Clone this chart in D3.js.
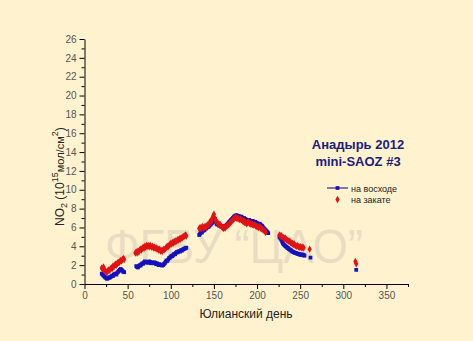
<!DOCTYPE html>
<html><head><meta charset="utf-8">
<script src="https://cdn.jsdelivr.net/npm/d3@7"></script>
<style>
html,body{margin:0;padding:0;background:#fff3cf;}
svg{display:block;font-family:Arial,"Liberation Sans",sans-serif;}
</style></head>
<body><svg id="c" width="473" height="341"></svg>
<script>
// ---- data ----
const riseDays = [20,21,22,23,24,25,26,27,28,29,30,31,32,33,34,35,36,37,38,39,40,41,42,43,44,45,46,
 60,61,62,63,64,65,66,67,68,69,70,71,72,73,74,75,76,77,78,79,80,81,82,83,84,85,86,87,88,89,90,91,92,93,94,95,96,97,98,99,100,101,102,103,104,105,106,107,108,109,110,111,112,113,114,115,116,117,118,
 133,134,135,136,137,138,139,140,141,142,143,144,145,146,147,148,149,150,151,152,153,154,155,156,157,158,159,160,161,162,163,164,165,166,167,168,169,170,171,172,173,174,175,176,177,178,179,180,181,182,183,184,185,186,187,188,189,190,191,192,193,194,195,196,197,198,199,200,201,202,203,204,205,206,207,208,209,210,211,212,213,
 226,227,228,229,230,231,232,233,234,235,236,237,238,239,240,241,242,243,244,245,246,247,248,249,250,251,252,253,254,255,262,
 315];
const riseNO2 = [1.1,1.0,0.9,0.8,0.7,0.65,0.55,0.6,0.7,0.65,0.75,0.8,0.9,0.85,1.0,1.05,1.1,1.0,1.2,1.3,1.4,1.5,1.6,1.5,1.4,1.3,1.25,
 1.9,1.8,1.75,1.9,2.0,1.95,2.1,2.2,2.15,2.3,2.4,2.3,2.35,2.25,2.3,2.4,2.35,2.2,2.3,2.25,2.2,2.3,2.25,2.1,2.2,2.1,2.0,2.1,2.05,2.0,1.95,2.0,2.1,2.2,2.35,2.5,2.45,2.6,2.75,2.8,2.9,3.0,2.95,3.1,3.2,3.15,3.3,3.4,3.35,3.45,3.5,3.45,3.6,3.55,3.65,3.7,3.75,3.8,3.85,
 5.2,5.35,5.5,5.45,5.6,5.75,5.7,5.85,5.9,6.0,6.05,6.1,6.2,6.3,6.4,6.5,6.7,6.8,6.9,6.6,6.4,6.3,6.35,6.2,6.25,6.1,6.15,6.05,6.1,6.0,6.15,6.2,6.3,6.35,6.5,6.6,6.7,6.8,6.9,7.0,7.1,7.2,7.25,7.3,7.25,7.2,7.2,7.15,7.1,7.15,7.0,6.95,7.0,6.9,6.85,6.8,6.7,6.75,6.8,6.7,6.6,6.65,6.7,6.6,6.55,6.6,6.5,6.45,6.4,6.35,6.4,6.3,6.2,6.15,6.0,5.9,5.8,5.7,5.6,5.5,5.4,
 5.0,4.85,4.7,4.5,4.3,4.2,4.1,4.0,3.95,3.85,3.8,3.7,3.65,3.6,3.5,3.45,3.4,3.35,3.3,3.3,3.25,3.2,3.2,3.15,3.1,3.1,3.15,3.05,3.1,3.0,2.8,
 1.5];
const setDays = [20,21,22,23,24,25,26,27,28,29,30,31,32,33,34,35,36,37,38,39,40,41,42,43,44,45,46,
 59,60,61,62,63,64,65,66,67,68,69,70,71,72,73,74,75,76,77,78,79,80,81,82,83,84,85,86,87,88,89,90,91,92,93,94,95,96,97,98,99,100,101,102,103,104,105,106,107,108,109,110,111,112,113,114,115,116,117,118,
 133,134,135,136,137,138,139,140,141,142,143,144,145,146,147,148,149,150,151,152,153,154,155,156,157,158,159,160,161,162,163,164,165,166,167,168,169,170,171,172,173,174,175,176,177,178,179,180,181,182,183,184,185,186,187,188,189,190,191,192,193,194,195,196,197,198,199,200,201,202,203,204,205,206,207,208,209,210,
 226,227,228,229,230,231,232,233,234,235,236,237,238,239,240,241,242,243,244,245,246,247,248,249,250,251,252,253,254,261,
 314,315];
const setNO2 = [1.7,1.6,1.8,1.5,1.4,1.3,1.25,1.35,1.5,1.45,1.6,1.7,1.65,1.9,1.8,2.0,2.1,2.0,2.2,2.3,2.25,2.4,2.5,2.45,2.6,2.7,2.6,
 3.3,3.4,3.3,3.5,3.4,3.6,3.7,3.6,3.8,3.9,3.8,4.0,3.9,4.1,4.0,4.05,3.95,4.1,4.0,3.9,4.0,3.85,3.9,3.8,3.85,3.7,3.75,3.6,3.7,3.5,3.55,3.45,3.6,3.7,3.65,3.8,3.9,4.0,3.95,4.1,4.2,4.3,4.25,4.4,4.35,4.5,4.45,4.6,4.55,4.7,4.65,4.8,4.75,4.9,4.85,5.0,5.05,5.1,5.2,5.1,
 5.9,6.0,5.85,6.0,6.1,5.95,6.05,6.1,6.0,6.2,6.3,6.25,6.5,6.7,6.6,6.9,7.2,7.4,7.0,6.8,6.6,6.5,6.4,6.3,6.35,6.2,6.1,6.0,5.9,6.0,5.95,6.1,6.15,6.2,6.3,6.4,6.5,6.6,6.7,6.8,6.9,7.0,7.05,7.0,6.95,7.0,6.9,6.85,6.9,6.8,6.75,6.6,6.7,6.5,6.55,6.4,6.5,6.6,6.45,6.4,6.35,6.4,6.3,6.25,6.3,6.2,6.1,6.15,6.05,6.0,6.1,5.95,5.9,5.8,5.75,5.7,5.6,5.5,
 5.2,5.1,5.15,5.0,4.95,4.9,4.8,4.85,4.7,4.65,4.6,4.5,4.55,4.4,4.35,4.3,4.2,4.25,4.1,4.05,4.0,4.05,3.95,3.9,3.95,3.9,3.85,3.9,3.85,3.7,
 2.4,2.15];
const xTicks = [0,50,100,150,200,250,300,350];
const yTicks = [0,2,4,6,8,10,12,14,16,18,20,22,24,26];
const seriesNames = ["на восходе","на закате"];
const titleLines = ["Анадырь 2012","mini-SAOZ #3"];
const xLabel = "Юлианский день";
const watermark = "ФГБУ “ЦАО”";

// ---- drawing ----
const svg = d3.select("#c");
const x = d3.scaleLinear().domain([0,375]).range([84.5,408]);
const y = d3.scaleLinear().domain([0,26]).range([284,39]);

svg.append("text").attr("x",105).attr("y",263).attr("font-size",48)
  .attr("textLength",258).attr("lengthAdjust","spacingAndGlyphs")
  .attr("fill","#e8ddc3").text(watermark);

// minor ticks
const gxm = svg.append("g").attr("transform","translate(0,284)")
  .call(d3.axisBottom(x).tickValues(d3.range(25,376,50)).tickSize(3).tickFormat("").tickSizeOuter(0));
const gym = svg.append("g").attr("transform","translate(84.5,0)")
  .call(d3.axisLeft(y).tickValues(d3.range(1,26,2)).tickSize(3).tickFormat("").tickSizeOuter(0));
[gxm,gym].forEach(g=>{g.select(".domain").remove();g.selectAll("line").attr("stroke","#000");});

const gx = svg.append("g").attr("transform","translate(0,284)")
  .call(d3.axisBottom(x).tickValues(xTicks).tickSize(5).tickSizeOuter(0).tickPadding(3));
const gy = svg.append("g").attr("transform","translate(84.5,0)")
  .call(d3.axisLeft(y).tickValues(yTicks).tickSize(5).tickSizeOuter(0).tickPadding(3));
[gx,gy].forEach(g=>{
  g.select(".domain").attr("stroke","#000");
  g.selectAll("line").attr("stroke","#000");
  g.selectAll("text").attr("font-size",10).attr("fill","#555").attr("font-family","Arial, 'Liberation Sans', sans-serif");
});

const rise = riseDays.map((d,i)=>[d,riseNO2[i]]);
const set = setDays.map((d,i)=>[d,setNO2[i]]);
const sq = d3.symbol().type(d3.symbolSquare).size(14);
const dm = d3.symbol().type(d3.symbolDiamond).size(16);
svg.append("g").selectAll("path").data(rise).join("path")
  .attr("d",sq).attr("transform",d=>`translate(${x(d[0])},${y(d[1])})`).attr("fill","#1212c0");
svg.append("g").selectAll("path").data(set).join("path")
  .attr("d",dm).attr("transform",d=>`translate(${x(d[0])},${y(d[1])})`).attr("fill","#e01414");

// title
svg.append("text").attr("x",358).attr("y",149).attr("text-anchor","middle")
  .attr("font-size",13).attr("font-weight","bold").attr("fill","#20207c").text(titleLines[0]);
svg.append("text").attr("x",358).attr("y",166).attr("text-anchor","middle")
  .attr("font-size",13).attr("font-weight","bold").attr("fill","#20207c").text(titleLines[1]);

// legend
svg.append("line").attr("x1",327).attr("x2",348).attr("y1",188).attr("y2",188).attr("stroke","#000066").attr("stroke-width",1);
svg.append("path").attr("d",sq).attr("transform","translate(337.5,188)").attr("fill","#1212c0");
svg.append("path").attr("d",dm).attr("transform","translate(337.5,199.5)").attr("fill","#e01414");
svg.append("text").attr("x",351).attr("y",191.5).attr("font-size",9).attr("fill","#222").text(seriesNames[0]);
svg.append("text").attr("x",351).attr("y",203).attr("font-size",9).attr("fill","#222").text(seriesNames[1]);

// axis titles
svg.append("text").attr("x",246).attr("y",318).attr("text-anchor","middle")
  .attr("font-size",12).attr("fill","#222").text(xLabel);
const yl = svg.append("text").attr("transform","translate(64,226) rotate(-90)")
  .attr("font-size",12).attr("fill","#222");
yl.append("tspan").text("NO");
yl.append("tspan").attr("font-size",9).attr("dy",3).text("2");
yl.append("tspan").attr("dy",-3).text(" (10");
yl.append("tspan").attr("font-size",9).attr("dy",-6).text("15");
yl.append("tspan").attr("font-size",11).attr("dy",6).text("мол/см");
yl.append("tspan").attr("font-size",9).attr("dy",-6).text("2");
yl.append("tspan").attr("dy",6).text(")");
</script></body></html>
